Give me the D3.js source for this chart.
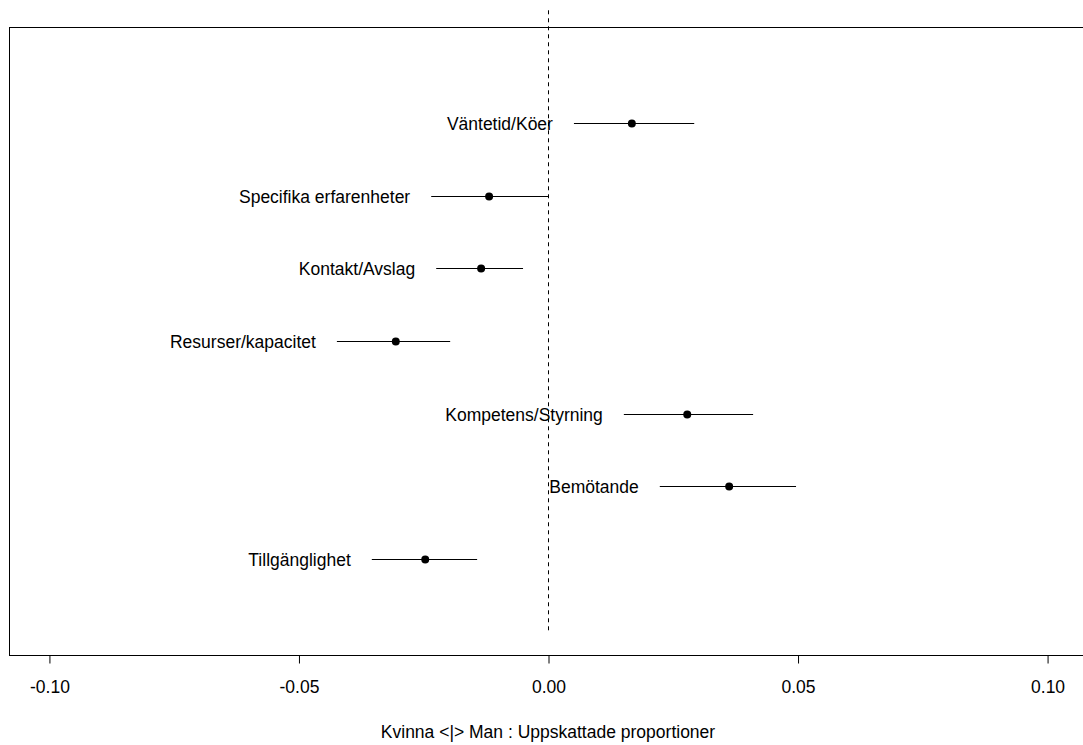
<!DOCTYPE html>
<html>
<head>
<meta charset="utf-8">
<script src="https://cdn.jsdelivr.net/npm/d3@7"></script>
<style>
  html, body { margin: 0; padding: 0; background: #fff; }
  svg { display: block; font-family: "Liberation Sans", Arial, sans-serif; }
</style>
</head>
<body>
<svg id="chart" width="1083" height="745"></svg>
<script>
// Estimated proportion differences (woman <|> man) with confidence intervals
const categories = ["Väntetid/Köer", "Specifika erfarenheter", "Kontakt/Avslag", "Resurser/kapacitet",
                    "Kompetens/Styrning", "Bemötande", "Tillgänglighet"];
const yPos      = [7, 6, 5, 4, 3, 2, 1];
const estimates = [0.0168, -0.0118, -0.0134, -0.0305, 0.0279, 0.0363, -0.0246];
const lower     = [0.0052, -0.0234, -0.0224, -0.0423, 0.0152, 0.0224, -0.0353];
const upper     = [0.0293, 0.0000, -0.0050, -0.0196, 0.0411, 0.0497, -0.0142];
const xTicks    = [-0.10, -0.05, 0.00, 0.05, 0.10];
const xTitle    = "Kvinna <|> Man : Uppskattade proportioner";

const svg = d3.select("#chart");
const plotL = 9, plotR = 1087, plotT = 27, plotB = 655;
const fs = 17.5;

const x = d3.scaleLinear().domain([-0.108, 0.108]).range([plotL, plotR]);
const y = d3.scaleLinear().domain([-0.32, 8.32]).range([plotB, plotT]);

// plot box
svg.append("rect")
  .attr("x", plotL + 0.5).attr("y", plotT + 0.5)
  .attr("width", plotR - plotL).attr("height", plotB - plotT)
  .attr("fill", "none").attr("stroke", "#000").attr("stroke-width", 1);

// x axis (plain hyphen for negatives)
const axis = d3.axisBottom(x).tickValues(xTicks)
  .tickFormat(d => d.toFixed(2)).tickSize(8).tickPadding(17);
const gx = svg.append("g").attr("transform", `translate(0.5,${plotB + 0.5})`).call(axis);
gx.select(".domain").remove();
gx.selectAll(".tick line").attr("stroke", "#000");
gx.selectAll(".tick text").attr("font-size", fs).attr("fill", "#000")
  .attr("font-family", "Liberation Sans, Arial, sans-serif");

// zero reference line
svg.append("line")
  .attr("x1", x(0) + 0.5).attr("x2", x(0) + 0.5)
  .attr("y1", y(8.55)).attr("y2", y(0))
  .attr("stroke", "#000").attr("stroke-width", 1).attr("stroke-dasharray", "4,4");

const rows = categories.map((c, i) => ({ c, y: yPos[i], est: estimates[i], lo: lower[i], hi: upper[i] }));

const g = svg.append("g");
g.selectAll("line.ci").data(rows).enter().append("line")
  .attr("class", "ci")
  .attr("x1", d => x(d.lo)).attr("x2", d => x(d.hi))
  .attr("y1", d => Math.round(y(d.y)) + 0.5).attr("y2", d => Math.round(y(d.y)) + 0.5)
  .attr("stroke", "#000").attr("stroke-width", 1);

g.selectAll("circle").data(rows).enter().append("circle")
  .attr("cx", d => x(d.est)).attr("cy", d => Math.round(y(d.y)) + 0.5)
  .attr("r", 4).attr("fill", "#000");

g.selectAll("text.lab").data(rows).enter().append("text")
  .attr("class", "lab")
  .attr("x", d => x(d.lo) - 21).attr("y", d => y(d.y) + 7)
  .attr("text-anchor", "end").attr("font-size", fs).attr("fill", "#000")
  .text(d => d.c);

// axis title
svg.append("text")
  .attr("x", x(0)).attr("y", 738)
  .attr("text-anchor", "middle").attr("font-size", fs).attr("fill", "#000")
  .text(xTitle);
</script>
</body>
</html>
